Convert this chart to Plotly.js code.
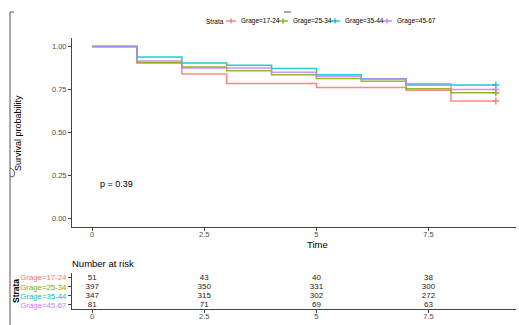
<!DOCTYPE html>
<html><head>
<script src="https://cdn.plot.ly/plotly-3.0.1.min.js"></script>
<style>body{margin:0;background:#fff}</style>
</head><body>
<div id="c" style="width:519px;height:325px"></div>
<script>
// ---- data ----
const strata = ["Grage=17-24", "Grage=25-34", "Grage=35-44", "Grage=45-67"];
const times = [0, 1, 2, 3, 4, 5, 6, 7, 8, 9];
const surv1724 = [1.0, 0.905, 0.841, 0.785, 0.785, 0.762, 0.762, 0.746, 0.684, 0.684];
const surv2534 = [1.0, 0.908, 0.881, 0.860, 0.836, 0.814, 0.799, 0.754, 0.731, 0.731];
const surv3544 = [1.0, 0.940, 0.905, 0.892, 0.872, 0.836, 0.813, 0.783, 0.776, 0.776];
const surv4567 = [1.0, 0.916, 0.876, 0.876, 0.851, 0.827, 0.811, 0.775, 0.750, 0.750];
const riskTimes = [0, 2.5, 5, 7.5];
const risk1724 = [51, 43, 40, 38];
const risk2534 = [397, 350, 331, 300];
const risk3544 = [347, 315, 302, 272];
const risk4567 = [81, 71, 69, 63];
const xTicks = [0, 2.5, 5, 7.5];
const xTickText = ["0", "2.5", "5", "7.5"];
const yTicks = [0, 0.25, 0.5, 0.75, 1];
const yTickText = ["0.00", "0.25", "0.50", "0.75", "1.00"];
const pText = "p = 0.39";
const legendTitle = "Strata";

// ---- style ----
const colors = ["#F8766D", "#7CAE00", "#00BFC4", "#C77CFF"];
const W = 519, H = 325;
const fx = p => p / W, fy = p => 1 - p / H;
const FONT = "Liberation Sans, Arial, sans-serif";

const survs = [surv1724, surv2534, surv3544, surv4567];
const risks = [risk1724, risk2534, risk3544, risk4567];
const traces = [];
survs.forEach((s, i) => {
  traces.push({x: times, y: s, mode: "lines", line: {shape: "hv", color: colors[i], width: 1.5},
    opacity: 0.85, showlegend: false, hoverinfo: "skip", xaxis: "x", yaxis: "y"});
});
survs.forEach((s, i) => {
  traces.push({x: [times[times.length - 1]], y: [s[s.length - 1]], mode: "markers",
    name: strata[i],
    marker: {symbol: "cross-thin", size: 5, line: {color: colors[i], width: 1.5}, color: colors[i]},
    opacity: 0.85, showlegend: false, xaxis: "x", yaxis: "y"});
});
// p-value text
traces.push({x: [0.54], y: [0.194], mode: "text", text: [pText], textfont: {family: FONT, size: 9, color: "#000"},
  showlegend: false, hoverinfo: "skip", xaxis: "x", yaxis: "y"});
// risk table
const rowPos = [4, 3, 2, 1];
risks.forEach((r, i) => {
  traces.push({x: riskTimes, y: r.map(() => rowPos[i]), mode: "text", text: r.map(String),
    textfont: {family: FONT, size: 8, color: "#222"}, showlegend: false, hoverinfo: "skip",
    xaxis: "x2", yaxis: "y2"});
});

const axBase = {showline: true, linecolor: "#444", linewidth: 1, ticks: "outside", ticklen: 3,
  tickcolor: "#444", showgrid: false, zeroline: false, tickfont: {family: FONT, size: 7.5, color: "#4d4d4d"}};

function ann(x, y, text, size, extra) {
  return Object.assign({xref: "paper", yref: "paper", x: fx(x), y: fy(y), text: text, showarrow: false,
    xanchor: "center", yanchor: "middle", font: {family: FONT, size: size, color: "#000"}}, extra || {});
}
const annotations = [
  ann(18, 133, "Survival probability", 9, {textangle: -90}),
  ann(317, 244, "Time", 9.5),
  ann(70, 263, "Number at risk", 9.5, {xanchor: "left"}),
  ann(16, 291, "<b>Strata</b>", 8.5, {textangle: -90}),
  ann(317, 322, "Time", 9.5, {yanchor: "top"}),
  ann(204, 21, legendTitle, 6.5, {xanchor: "left"})
];
const shapes = [
  {type: "line", xref: "paper", yref: "paper", x0: fx(10), x1: fx(10), y0: fy(12), y1: fy(325), line: {color: "#555", width: 1}},
  {type: "line", xref: "paper", yref: "paper", x0: fx(10), x1: fx(14), y0: fy(12), y1: fy(12), line: {color: "#555", width: 1}},
  {type: "line", xref: "paper", yref: "paper", x0: fx(284), x1: fx(291), y0: fy(12), y1: fy(12), line: {color: "#555", width: 1}},
  {type: "path", xref: "paper", yref: "paper",
    path: "M " + fx(10) + " " + fy(168) + " Q " + fx(16) + " " + fy(170) + " " + fx(14) + " " + fy(176) + " Q " + fx(12) + " " + fy(178) + " " + fx(10) + " " + fy(176),
    line: {color: "#555", width: 1}}
];
// manual legend keys
strata.forEach((s, i) => {
  const cx = 231 + 52 * i;
  shapes.push({type: "line", xref: "paper", yref: "paper", x0: fx(cx - 5), x1: fx(cx + 5), y0: fy(21), y1: fy(21),
    line: {color: colors[i], width: 1.3}});
  shapes.push({type: "line", xref: "paper", yref: "paper", x0: fx(cx), x1: fx(cx), y0: fy(18.5), y1: fy(23.5),
    line: {color: colors[i], width: 1.3}});
  annotations.push(ann(cx + 8, 21, s, 6.5, {xanchor: "left"}));
});

const layout = {
  width: W, height: H, margin: {l: 0, r: 0, t: 0, b: 0},
  paper_bgcolor: "#fff", plot_bgcolor: "#fff",
  font: {family: FONT},
  showlegend: false,
  xaxis: Object.assign({}, axBase, {domain: [fx(72), fx(516)], range: [-0.45, 9.45], anchor: "y",
    tickvals: xTicks, ticktext: xTickText, ticklabelstandoff: -3}),
  yaxis: Object.assign({}, axBase, {domain: [fy(227), fy(38)], range: [-0.05, 1.05], anchor: "x",
    tickvals: yTicks, ticktext: yTickText}),
  xaxis2: Object.assign({}, axBase, {domain: [fx(72), fx(516)], range: [-0.45, 9.45], anchor: "y2",
    tickvals: xTicks, ticktext: xTickText, ticklabelstandoff: -3}),
  yaxis2: Object.assign({}, axBase, {domain: [fy(309), fy(272.7)], range: [0.55, 4.55], anchor: "x2",
    tickvals: rowPos, ticktext: strata.map((s, i) => '<span style="color:' + colors[i] + '">' + s + '</span>'),
    tickfont: {family: FONT, size: 7.8}}),
  annotations: annotations,
  shapes: shapes
};
Plotly.newPlot("c", traces, layout, {staticPlot: true, displayModeBar: false});
</script>
</body></html>
